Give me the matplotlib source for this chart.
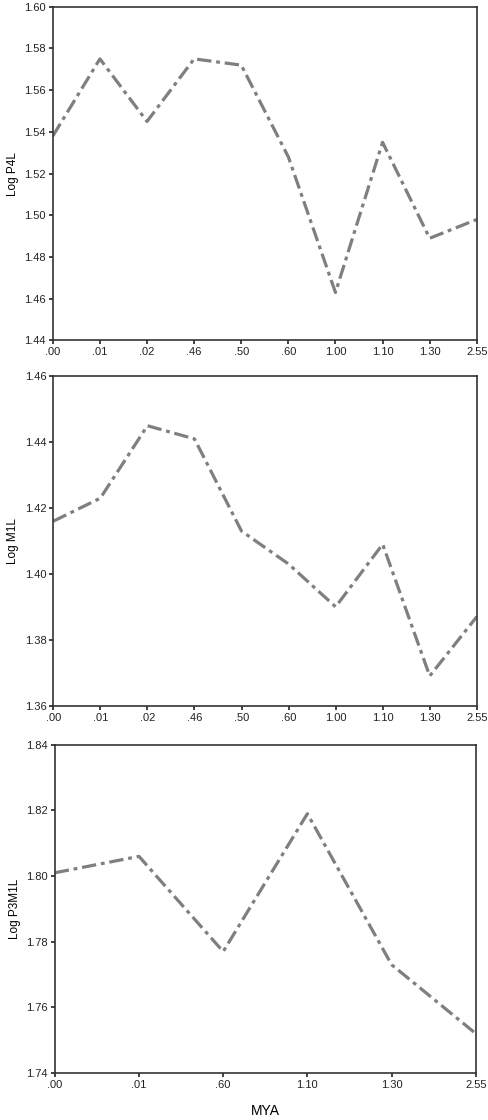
import numpy as np
import matplotlib
matplotlib.use('Agg')
import matplotlib.pyplot as plt

plt.rcParams['font.family'] = ['Liberation Sans', 'DejaVu Sans']

# panel 1 - Log P4L
p4l_labels = ['.00', '.01', '.02', '.46', '.50', '.60', '1.00', '1.10', '1.30', '2.55']
p4l_values = [1.538, 1.575, 1.545, 1.575, 1.572, 1.528, 1.463, 1.535, 1.489, 1.498]

# panel 2 - Log M1L
m1l_labels = ['.00', '.01', '.02', '.46', '.50', '.60', '1.00', '1.10', '1.30', '2.55']
m1l_values = [1.416, 1.423, 1.445, 1.441, 1.413, 1.403, 1.390, 1.409, 1.369, 1.387]

# panel 3 - Log P3M1L
p3m1l_labels = ['.00', '.01', '.60', '1.10', '1.30', '2.55']
p3m1l_values = [1.801, 1.806, 1.777, 1.819, 1.773, 1.752]

panels = [
	(p4l_labels, p4l_values, 'Log P4L', (1.44, 1.60), [0.108, 0.696, 0.867, 0.298]),
	(m1l_labels, m1l_values, 'Log M1L', (1.36, 1.46), [0.109, 0.370, 0.866, 0.294]),
	(p3m1l_labels, p3m1l_values, 'Log P3M1L', (1.74, 1.84), [0.112, 0.042, 0.861, 0.293]),
]

fig = plt.figure(figsize=(4.89, 11.2), dpi=100)

for i, (labels, values, ylab, ylim, pos) in enumerate(panels):
	ax = fig.add_axes(pos)
	x = np.arange(len(labels))
	ax.plot(x, values, color='#7f7f7f', lw=2.3, linestyle=(0, (4.5, 1.5, 1.2, 1.5)),
			solid_capstyle='butt', dash_capstyle='butt')
	ax.set_xlim(0, len(labels) - 1)
	ax.set_ylim(*ylim)
	ax.set_xticks(x)
	ax.set_xticklabels(labels)
	ax.set_yticks(np.arange(ylim[0], ylim[1] + 0.001, 0.02))
	ax.yaxis.set_major_formatter(matplotlib.ticker.FormatStrFormatter('%.2f'))
	ax.tick_params(direction='out', length=3, width=1.2, labelsize=8, pad=2, colors='#222222')
	for s in ax.spines.values():
		s.set_linewidth(1.2)
		s.set_color('#333333')
	ax.set_ylabel(ylab, fontsize=8.5, labelpad=4)
	if i == 2:
		ax.set_xlabel('MYA', fontsize=10, labelpad=10)

fig.savefig('out.png', dpi=100)
